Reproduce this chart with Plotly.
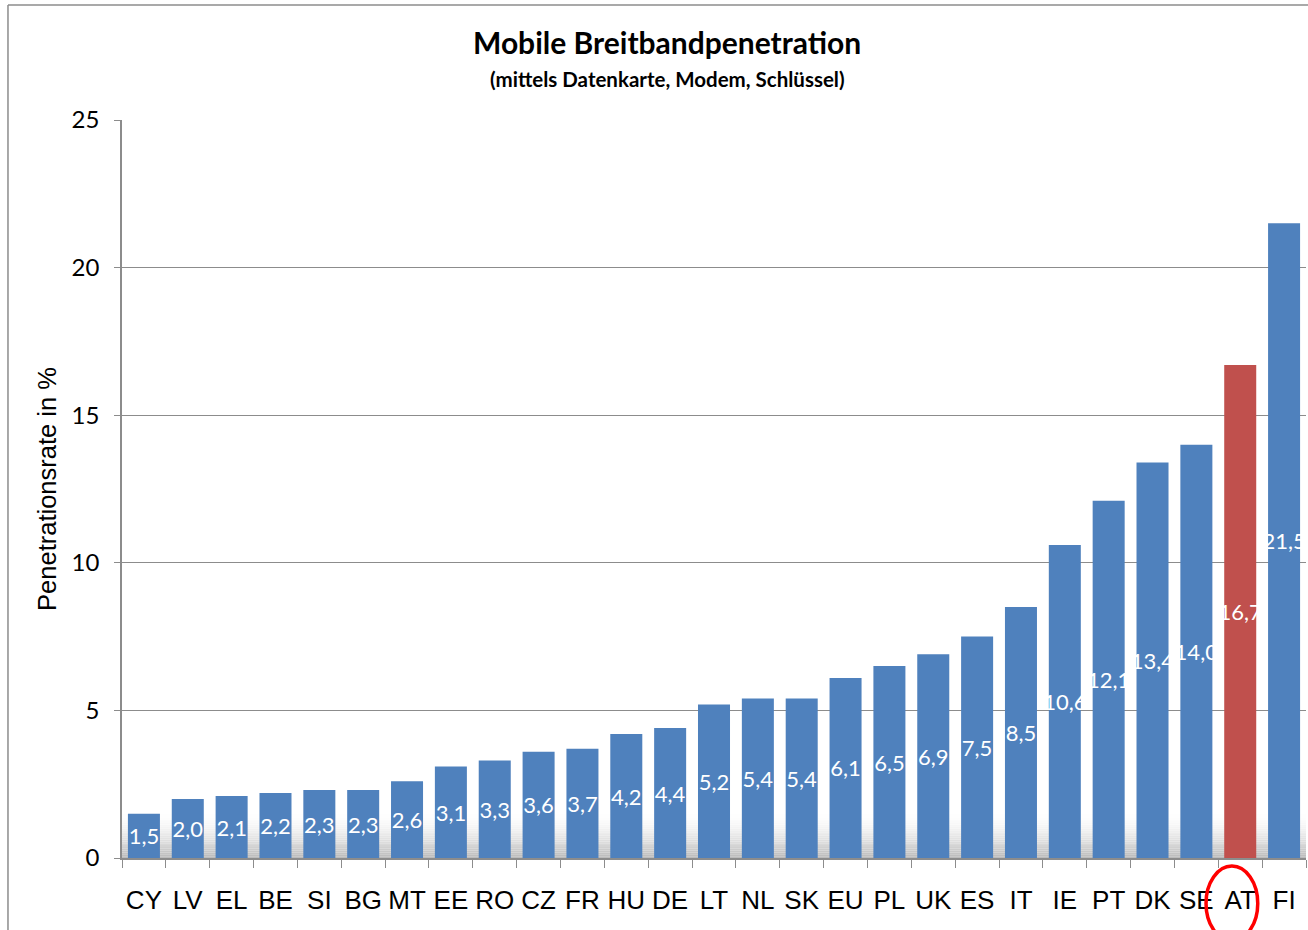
import plotly.graph_objects as go

countries = ["CY", "LV", "EL", "BE", "SI", "BG", "MT", "EE", "RO", "CZ", "FR", "HU", "DE", "LT",
             "NL", "SK", "EU", "PL", "UK", "ES", "IT", "IE", "PT", "DK", "SE", "AT", "FI"]
values = [1.5, 2.0, 2.1, 2.2, 2.3, 2.3, 2.6, 3.1, 3.3, 3.6, 3.7, 4.2, 4.4, 5.2,
          5.4, 5.4, 6.1, 6.5, 6.9, 7.5, 8.5, 10.6, 12.1, 13.4, 14.0, 16.7, 21.5]
highlight = "AT"
y_ticks = [0, 5, 10, 15, 20, 25]

BLUE = "#4F81BD"
RED = "#C0504D"
colors = [RED if c == highlight else BLUE for c in countries]
labels = [f"{v:.1f}".replace(".", ",") for v in values]

fig = go.Figure()
fig.add_trace(go.Bar(
    x=countries, y=values, marker=dict(color=colors, line=dict(width=0)),
    text=labels, textposition="inside", insidetextanchor="middle",
    textangle=0, constraintext="none", cliponaxis=False,
    textfont=dict(family="Lato", size=22, color="white"),
    hoverinfo="skip",
))

shapes = []
# floor gradient (background) near the bottom of the plot area
n = 24
top = 1.5
for i in range(n):
    y0 = top * i / n
    y1 = top * (i + 1) / n
    t = 1 - (i + 0.5) / n
    g = int(255 - 70 * t ** 1.6)
    shapes.append(dict(type="rect", xref="paper", yref="y", x0=0, x1=1, y0=y0, y1=y1,
                       fillcolor=f"rgb({g},{g},{g})", line=dict(width=0), layer="below"))
# outer chart border
shapes.append(dict(type="line", xref="paper", yref="paper", x0=-0.0963, x1=-0.0963,
                   y0=-0.2, y1=1.1558, line=dict(color="#8c8c8c", width=1.5)))
shapes.append(dict(type="line", xref="paper", yref="paper", x0=-0.0963, x1=1.01,
                   y0=1.1558, y1=1.1558, line=dict(color="#8c8c8c", width=1.5)))
# red circle around AT
idx = countries.index(highlight)
shapes.append(dict(type="circle", xref="x", yref="paper", x0=idx - 0.78, x1=idx + 0.40,
                   y0=-0.112, y1=-0.011, line=dict(color="#FF0000", width=3.5)))

fig.update_layout(
    width=1308, height=930,
    margin=dict(l=122, r=2, t=120, b=72),
    paper_bgcolor="white", plot_bgcolor="white",
    bargap=0.27,
    showlegend=False,
    shapes=shapes,
    annotations=[
        dict(text="<b>Mobile Breitbandpenetration</b>", xref="paper", yref="paper",
             x=(667 - 122) / 1184, y=1 + (120 - 42) / 738, showarrow=False,
             font=dict(family="Lato", size=30, color="black"), yanchor="middle"),
        dict(text="<b>(mittels Datenkarte, Modem, Schlüssel)</b>", xref="paper", yref="paper",
             x=(667 - 122) / 1184, y=1 + (120 - 79) / 738, showarrow=False,
             font=dict(family="Lato", size=20.5, color="black"), yanchor="middle"),
    ],
    xaxis=dict(
        showgrid=False, showline=True, linecolor="#8c8c8c", linewidth=1.5,
        ticks="outside", tickson="boundaries", ticklen=8, tickcolor="#8c8c8c",
        tickangle=0, automargin=False,
        tickfont=dict(family="Liberation Sans", size=26, color="black"),
        ticklabelstandoff=18, fixedrange=True,
    ),
    yaxis=dict(
        range=[0, 25], tickvals=y_ticks, showgrid=True, gridcolor="#8c8c8c", gridwidth=1,
        showline=True, linecolor="#8c8c8c", linewidth=1.5, zeroline=False,
        ticks="outside", ticklen=6, tickcolor="#8c8c8c", automargin=False,
        tickfont=dict(family="Lato", size=24, color="black"),
        ticklabelstandoff=10,
        title=dict(text="Penetrationsrate in %", font=dict(family="Liberation Sans", size=25.5, color="black"),
                   standoff=8),
        fixedrange=True,
    ),
)

fig.write_html("out.html", config={"displayModeBar": False},
               post_script="document.body.style.margin='0';")
